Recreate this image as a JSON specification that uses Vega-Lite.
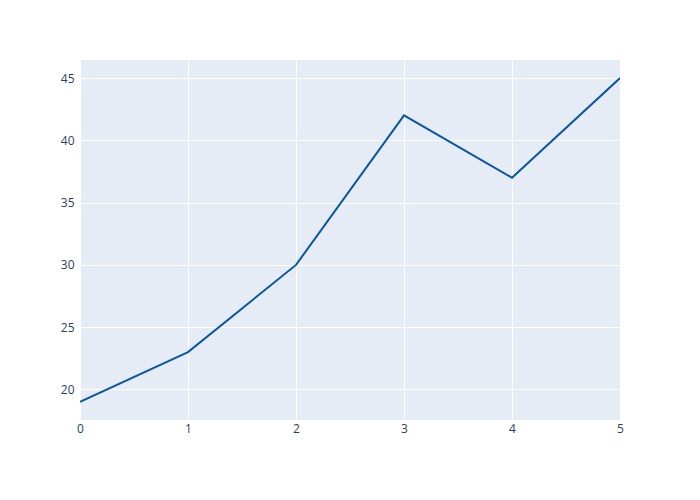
{
  "$schema": "https://vega.github.io/schema/vega-lite/v6.json",
  "width": 540,
  "height": 360,
  "autosize": {"type": "none"},
  "padding": {"left": 80, "top": 60, "right": 80, "bottom": 80},
  "background": "white",
  "config": {
    "view": {"fill": "#e5ecf6", "stroke": null},
    "font": "Open Sans",
    "axis": {
      "domain": false,
      "ticks": false,
      "gridColor": "white",
      "gridWidth": 1,
      "gridOpacity": 1,
      "labelColor": "#2a3f5f",
      "labelFontSize": 12,
      "labelFont": "Open Sans",
      "title": null
    }
  },
  "data": {
    "values": [
      {"x": 0, "y": 19},
      {"x": 1, "y": 23},
      {"x": 2, "y": 30},
      {"x": 3, "y": 42},
      {"x": 4, "y": 37},
      {"x": 5, "y": 45}
    ]
  },
  "mark": {"type": "line", "color": "#0b56a3", "strokeWidth": 2, "clip": true},
  "encoding": {
    "x": {
      "field": "x",
      "type": "quantitative",
      "scale": {"domain": [0, 5], "nice": false, "zero": false},
      "axis": {"values": [0, 1, 2, 3, 4, 5], "labelPadding": 3, "labelFlush": false, "format": "d"}
    },
    "y": {
      "field": "y",
      "type": "quantitative",
      "scale": {"domain": [17.55, 46.45], "nice": false, "zero": false},
      "axis": {"values": [20, 25, 30, 35, 40, 45], "labelPadding": 6, "format": "d"}
    }
  }
}
